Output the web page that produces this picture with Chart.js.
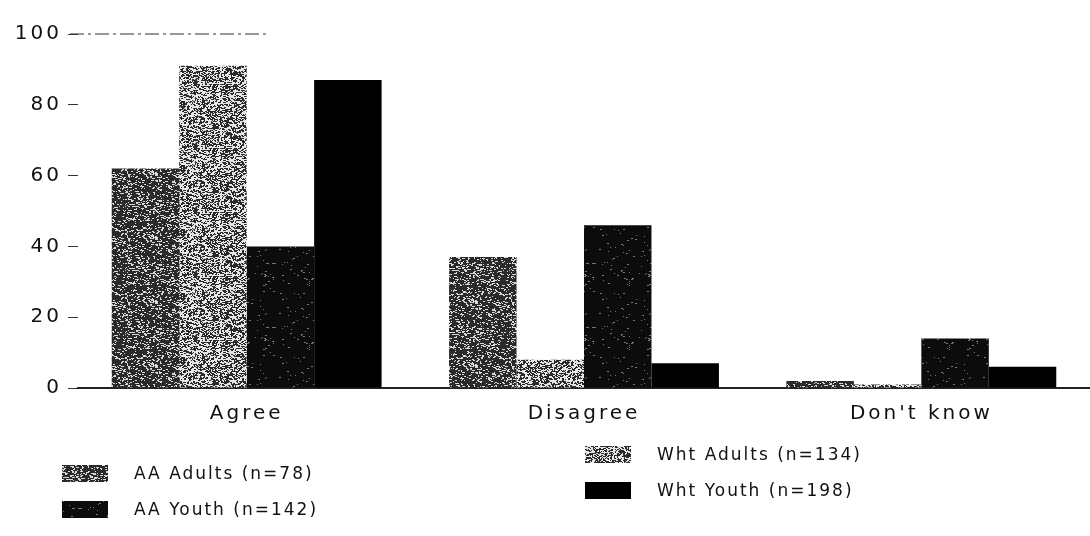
<!DOCTYPE html>
<html>
<head>
<meta charset="utf-8">
<script src="https://cdn.jsdelivr.net/npm/chart.js@4.4.1/dist/chart.umd.min.js"></script>
<style>
  body { margin: 0; background: #fff; }
  #wrap { position: relative; width: 1090px; height: 536px; }
  .leg { position: absolute; font-family: "DejaVu Sans", sans-serif; font-size: 17px; color: #111; letter-spacing: 2px; display: flex; align-items: center; }
  .leg canvas { margin-right: 26px; }
</style>
</head>
<body>
<div id="wrap">
  <canvas id="chart" width="1090" height="536"></canvas>
</div>
<script>
// Chart data
const categories = ["Agree", "Disagree", "Don't know"];
const seriesNames = ["AA Adults (n=78)", "Wht Adults (n=134)", "AA Youth (n=142)", "Wht Youth (n=198)"];
const aaAdults = [62, 37, 2];
const whtAdults = [91, 8, 1];
const aaYouth = [40, 46, 14];
const whtYouth = [87, 7, 6];
const yTicks = [0, 20, 40, 60, 80, 100];

// speckled fill like the photocopy (fixed seed so it looks the same every time)
function speckle(base, dot, density, seed) {
  const c = document.createElement("canvas");
  c.width = 64; c.height = 64;
  const g = c.getContext("2d");
  g.fillStyle = base;
  g.fillRect(0, 0, 64, 64);
  let s = seed;
  const rnd = () => { s = (s * 1103515245 + 12345) % 2147483648; return s / 2147483648; };
  g.fillStyle = dot;
  for (let i = 0; i < 64 * 64 * density; i++) {
    const x = Math.floor(rnd() * 64), y = Math.floor(rnd() * 64);
    g.fillRect(x, y, 1 + Math.floor(rnd() * 2), 1);
  }
  return g.createPattern(c, "repeat");
}

const ctx = document.getElementById("chart").getContext("2d");
const fills = [
  speckle("#2a2a2a", "#d8d8d8", 0.18, 7),
  speckle("#e6e6e6", "#2a2a2a", 0.45, 11),
  speckle("#0c0c0c", "#777", 0.02, 3),
  "#000"
];

const seriesData = [aaAdults, whtAdults, aaYouth, whtYouth];

// wider letter spacing + the dashed rule at 100
const scanLook = {
  id: "scanLook",
  beforeLayout(c) { c.ctx.letterSpacing = "3px"; },
  beforeDraw(c) { c.ctx.letterSpacing = "3px"; },
  afterDraw(c) {
    const y = c.scales.y.getPixelForValue(100);
    const g = c.ctx;
    g.save();
    g.strokeStyle = "#333";
    g.lineWidth = 1.2;
    g.setLineDash([14, 4, 3, 4]);
    g.beginPath();
    g.moveTo(c.chartArea.left - 8, y);
    g.lineTo(c.chartArea.left + 190, y);
    g.stroke();
    g.restore();
  }
};

const chart = new Chart(ctx, {
  type: "bar",
  data: {
    labels: categories,
    datasets: seriesNames.map((name, i) => ({
      label: name,
      data: seriesData[i],
      backgroundColor: fills[i],
      borderWidth: 0,
      categoryPercentage: 0.8,
      barPercentage: 1.0
    }))
  },
  options: {
    responsive: false,
    animation: false,
    layout: { padding: { top: 34, right: 0, bottom: 104, left: 0 } },
    plugins: { legend: { display: false }, tooltip: { enabled: false } },
    scales: {
      x: {
        grid: { display: false },
        border: { display: true, color: "#222", width: 2 },
        ticks: { color: "#111", font: { family: "DejaVu Sans", size: 20 }, padding: 6 }
      },
      y: {
        min: 0, max: 100,
        afterFit: s => { s.width = 78; },
        afterBuildTicks: s => { s.ticks = yTicks.map(v => ({ value: v })); },
        grid: { drawOnChartArea: false, drawTicks: true, tickLength: 10, color: "#333" },
        border: { display: false },
        ticks: { color: "#111", font: { family: "DejaVu Sans", size: 20 }, padding: 6 }
      }
    }
  },
  plugins: [scanLook]
});

// Legend laid out in two columns like the original
const legendSpots = [
  { i: 0, left: 62, top: 463 },
  { i: 2, left: 62, top: 499 },
  { i: 1, left: 585, top: 444 },
  { i: 3, left: 585, top: 480 }
];
const wrap = document.getElementById("wrap");
legendSpots.forEach(p => {
  const div = document.createElement("div");
  div.className = "leg";
  div.style.left = p.left + "px";
  div.style.top = p.top + "px";
  const sw = document.createElement("canvas");
  sw.width = 46; sw.height = 17;
  const g = sw.getContext("2d");
  g.fillStyle = fills[p.i];
  g.fillRect(0, 0, 46, 17);
  div.appendChild(sw);
  const span = document.createElement("span");
  span.textContent = seriesNames[p.i];
  div.appendChild(span);
  wrap.appendChild(div);
});
</script>
</body>
</html>
